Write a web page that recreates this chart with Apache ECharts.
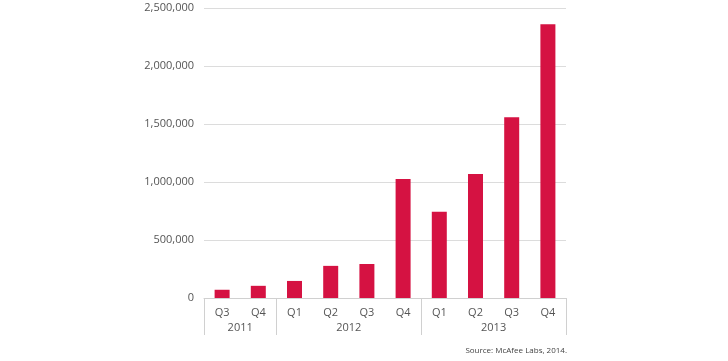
<!DOCTYPE html>
<html>
<head>
<meta charset="utf-8">
<script src="https://cdn.jsdelivr.net/npm/echarts@6/dist/echarts.min.js"></script>
<style>
html,body{margin:0;padding:0;background:#fff;}
#c{width:728px;height:361px;}
</style>
</head>
<body>
<div id="c"></div>
<script>
const quarters = ['Q3','Q4','Q1','Q2','Q3','Q4','Q1','Q2','Q3','Q4'];
const values = [71000, 105000, 147000, 277000, 293000, 1026000, 743000, 1070000, 1559000, 2360000];
const years = ['2011','2012','2013'];
const yearStarts = [0, 2, 6];      // category index where each year begins
const yearCenters = [1, 4, 8];     // midpoint positions of each year group (in band units)
const yTicks = [0, 500000, 1000000, 1500000, 2000000, 2500000];

const chart = echarts.init(document.getElementById('c'));
const font = '"Open Sans", "Noto Sans", sans-serif';
chart.setOption({
  animation: false,
  textStyle: {fontFamily: font},
  title: {
    text: 'Source: McAfee Labs, 2014.',
    right: 156, bottom: 1,
    textStyle: {fontSize: 8, fontWeight: 'normal', color: '#444', fontFamily: font}
  },
  grid: {left: 204, right: 162, top: 8, bottom: 63},
  xAxis: [{
    type: 'category',
    data: quarters,
    position: 'bottom',
    axisLine: {lineStyle: {color: '#d0d0d0'}},
    axisTick: {
      show: true,
      length: 37,
      interval: function (index) { return yearStarts.indexOf(index) >= 0; },
      lineStyle: {color: '#d0d0d0'}
    },
    axisLabel: {color: '#555', fontSize: 11, margin: 9, interval: 0, fontFamily: font}
  }, {
    type: 'value',
    position: 'bottom',
    offset: 0,
    min: 0, max: 10, interval: 1,
    axisLine: {show: false},
    axisTick: {show: false},
    splitLine: {show: false},
    axisLabel: {
      color: '#555', fontSize: 11, margin: 24, fontFamily: font,
      formatter: function (v) {
        const i = yearCenters.indexOf(v);
        return i >= 0 ? years[i] : '';
      }
    }
  }],
  yAxis: {
    type: 'value',
    min: yTicks[0], max: yTicks[yTicks.length - 1], interval: 500000,
    axisLine: {show: false},
    axisTick: {show: false},
    splitLine: {lineStyle: {color: '#dcdcdc'}},
    axisLabel: {
      color: '#555', fontSize: 11, margin: 10, fontFamily: font,
      formatter: function (v) { return v.toLocaleString('en-US'); }
    }
  },
  series: [{
    type: 'bar',
    xAxisIndex: 0,
    data: values,
    barWidth: 15,
    itemStyle: {color: '#D51242'}
  }]
});
</script>
</body>
</html>
